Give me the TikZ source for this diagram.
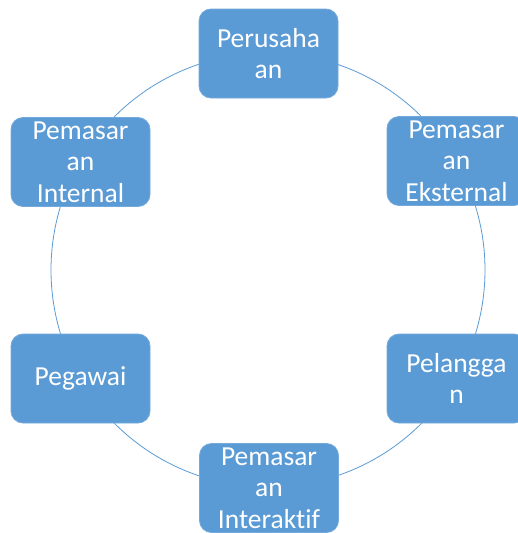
\documentclass[tikz,border=0pt]{standalone}
\usepackage{fontspec}
\setmainfont[Ligatures=NoCommon]{Carlito}
\definecolor{boxblue}{HTML}{5B9BD5}
\begin{document}
\begin{tikzpicture}[x=1pt,y=-1pt,
  box/.style={draw=boxblue!85!white, line width=0.8pt, fill=boxblue, rounded corners=12pt,
    minimum width=139pt, minimum height=89pt, inner sep=0pt, align=center,
    text=white, font=\fontsize{27.5}{31.5}\selectfont},
  ring/.style={draw=boxblue, line width=0.8pt}]
\useasboundingbox (0,0) rectangle (517,533);
\fill[white] (0,0) rectangle (517,533);
\coordinate (c) at (268,270);
\draw[ring] (c) circle[radius=217pt];
\node[box] (per) at (268.5,53.5) {Perusaha\\an};
\node[box] (int) at (80.5,162) {Pemasar\\an\\Internal};
\node[box] (eks) at (456.5,161) {Pemasar\\an\\Eksternal};
\node[box] (peg) at (80.5,378.5) {Pegawai};
\node[box] (pel) at (456.5,378.5) {Pelangga\\n};
\node[box] (ina) at (269,488) {Pemasar\\an\\Interaktif};
\end{tikzpicture}
\end{document}
